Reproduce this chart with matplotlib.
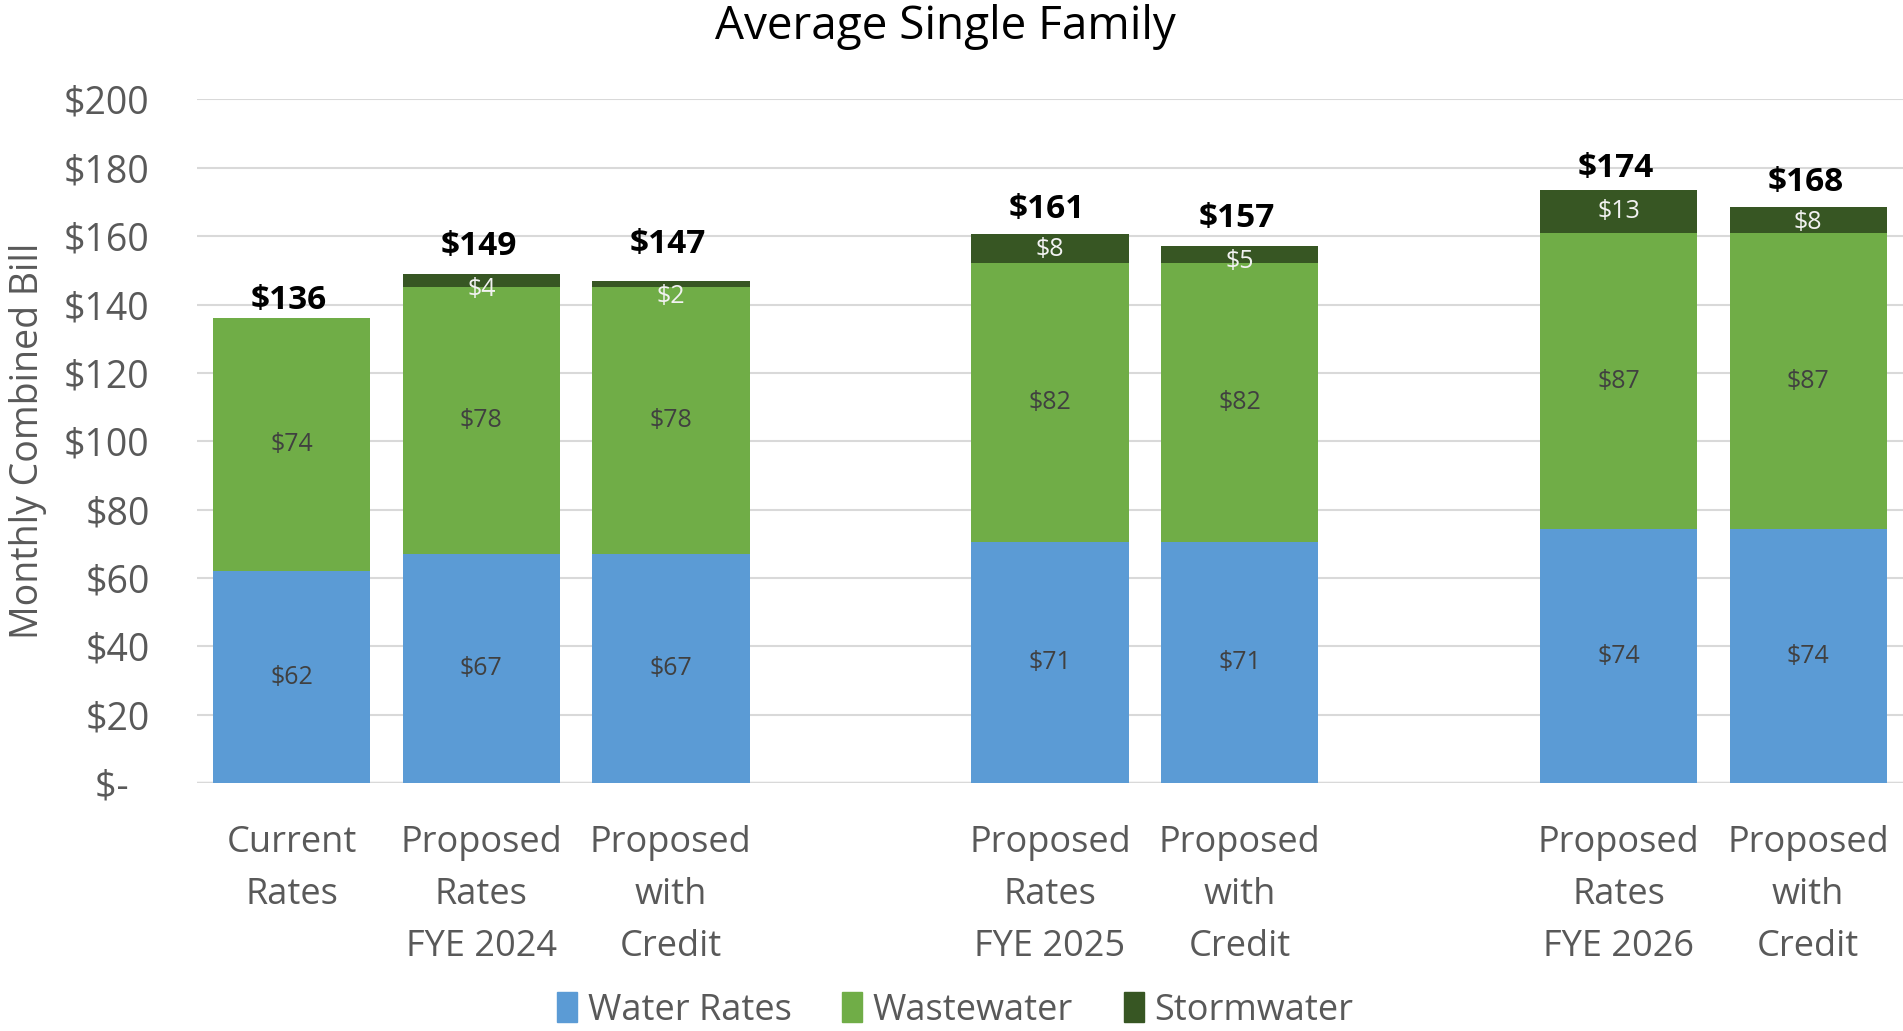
import numpy as np
import matplotlib.pyplot as plt
from matplotlib.patches import Patch

plt.rcParams['font.family'] = ['Open Sans', 'DejaVu Sans']

# --- data (blank slots keep the gaps between the year groups) ---
categories = ['Current\nRates', 'Proposed\nRates\nFYE 2024', 'Proposed\nwith\nCredit', '',
              'Proposed\nRates\nFYE 2025', 'Proposed\nwith\nCredit', '',
              'Proposed\nRates\nFYE 2026', 'Proposed\nwith\nCredit']
water = [62, 67, 67, np.nan, 70.6, 70.6, np.nan, 74.2, 74.2]
wastewater = [74, 78, 78, np.nan, 81.6, 81.6, np.nan, 86.6, 86.6]
stormwater = [0, 4, 2, np.nan, 8.4, 4.8, np.nan, 12.8, 7.6]
series_names = ['Water Rates', 'Wastewater', 'Stormwater']
colors = ['#5B9BD5', '#70AD47', '#375623']
yticks = [0, 20, 40, 60, 80, 100, 120, 140, 160, 180, 200]
# total labels were hand-placed in the original, offset above bar top (points)
total_offsets = [13, 20, 26, np.nan, 18, 20, np.nan, 15, 18]

water = np.array(water)
wastewater = np.array(wastewater)
stormwater = np.array(stormwater)
totals = water + wastewater + stormwater
x = np.arange(len(categories))
w = 0.83

fig = plt.figure(figsize=(19.03, 10.31), dpi=100)
ax = fig.add_axes([0.1035, 0.2405, 0.8965, 0.663])

ax.bar(x, water, w, color=colors[0], zorder=2)
ax.bar(x, wastewater, w, bottom=water, color=colors[1], zorder=2)
ax.bar(x, stormwater, w, bottom=water + wastewater, color=colors[2], zorder=2)

# segment labels
for i in range(len(x)):
    if np.isnan(totals[i]):
        continue
    ax.text(x[i], water[i] / 2, f'${water[i]:.0f}', ha='center', va='center',
            fontsize=18, color='#404040', zorder=3)
    ax.text(x[i], water[i] + wastewater[i] / 2, f'${wastewater[i]:.0f}', ha='center',
            va='center', fontsize=18, color='#404040', zorder=3)
    if stormwater[i] > 0:
        mid = water[i] + wastewater[i] + stormwater[i] / 2
        ax.text(x[i], min(mid, totals[i] - 4.5), f'${stormwater[i]:.0f}',
                ha='center', va='center', fontsize=18, color='#F2F2F2', zorder=3)
    ax.annotate(f'${totals[i]:.0f}', (x[i], totals[i]), xytext=(-2, total_offsets[i]),
                textcoords='offset points', ha='center', va='center',
                fontsize=24, fontweight='bold', color='black', zorder=3)

ax.set_xlim(-0.5, len(categories) - 0.5)
ax.set_ylim(0, 200)
ax.set_yticks(yticks)
ax.set_yticklabels(['$-\u2007' if v == 0 else f'${v}' for v in yticks])
ax.set_xticks(x)
ax.set_xticklabels(categories, linespacing=1.6)
ax.tick_params(axis='y', length=0, labelsize=27, labelcolor='#595959', pad=34)
ax.tick_params(axis='x', length=0, labelsize=26, labelcolor='#595959', pad=30)
ax.grid(axis='y', color='#D9D9D9', lw=1.5, zorder=0)
for s in ax.spines.values():
    s.set_visible(False)
ax.axhline(0, color='#D9D9D9', lw=2.5, zorder=1)

ax.set_ylabel('Monthly Combined Bill', fontsize=27, color='#595959')
ax.yaxis.set_label_coords(-0.088, 0.5)
fig.text(0.497, 0.974, 'Average Single Family', fontsize=33, ha='center', va='center')

handles = [Patch(color=c, label=n) for c, n in zip(colors, series_names)]
fig.legend(handles=handles, loc='center', bbox_to_anchor=(0.502, 0.02), ncol=3,
           frameon=False, fontsize=26, labelcolor='#595959', handlelength=0.55,
           handleheight=0.9, handletextpad=0.3, columnspacing=1.4, borderpad=0.1)

fig.savefig('out.png', dpi=100)
